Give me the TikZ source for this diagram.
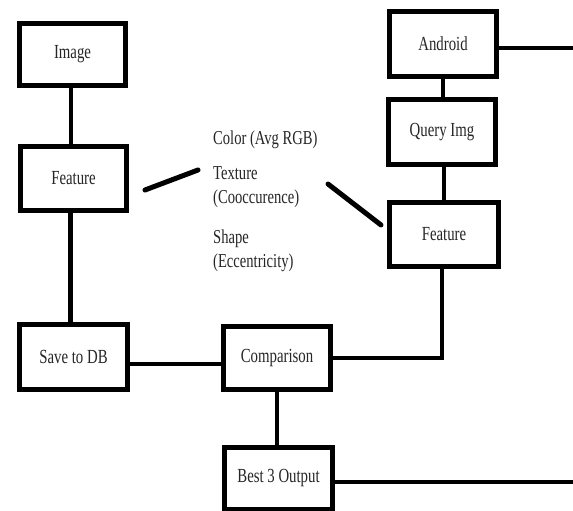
\documentclass[tikz,border=0pt]{standalone}
\usepackage{fontspec}
\setmainfont{Liberation Serif}
\usepackage{graphicx}
\newcommand{\mytxt}[1]{\scalebox{1}[1.35]{#1}}
\begin{document}
\begin{tikzpicture}[x=1pt,y=-1pt,
  box/.style={draw=black, fill=white, line width=5pt, minimum width=107pt, minimum height=64pt, inner sep=0pt, font=\fontsize{14.8}{17}\selectfont, text=black!85},
  conn/.style={line width=4.5pt},
  slash/.style={line width=5pt, line cap=round},
  feat/.style={anchor=base west, inner sep=0pt, font=\fontsize{14.6}{17}\selectfont, text=black!85}]
\useasboundingbox[fill=white] (0,0) rectangle (573,511);
% boxes
\node[box, minimum width=106pt, minimum height=62pt] (img) at (72.5,54.5) {\mytxt{Image}};
\node[box, minimum width=106pt, minimum height=64pt] (featL) at (73.5,178.5) {\mytxt{Feature}};
\node[box, minimum width=108pt, minimum height=65pt] (save) at (73.5,357) {\mytxt{Save to DB}};
\node[box, minimum height=63pt] (comp) at (277,358) {\mytxt{Comparison}};
\node[box, minimum width=108pt, minimum height=62pt] (best) at (278.5,478.5) {\mytxt{Best 3 Output}};
\node[box, minimum height=65pt] (and) at (443,44) {\mytxt{Android}};
\node[box, minimum height=65pt] (qry) at (442,132) {\mytxt{Query Img}};
\node[box, minimum width=109pt] (featR) at (444,234.5) {\mytxt{Feature}};
% feature texts
\node[feat] (t1) at (213,144) {\mytxt{Color (Avg RGB)}};
\node[feat] (t2) at (213,179) {\mytxt{Texture}};
\node[feat] (t3) at (213,203) {\mytxt{(Cooccurence)}};
\node[feat] (t4) at (213,243) {\mytxt{Shape}};
\node[feat] (t5) at (213,267) {\mytxt{(Eccentricity)}};
% free ends
\coordinate (ra) at (576,48);
\coordinate (rb) at (576,482);
\coordinate (s1a) at (145,190);
\coordinate (s1b) at (198,170);
\coordinate (s2a) at (328,184);
\coordinate (s2b) at (381,225);
% connectors
\draw[conn] ([xshift=-1.5pt]img.south) -- ([xshift=-1.5pt]img.south |- featL.north);
\draw[conn] ([xshift=-3pt]featL.south) -- ([xshift=-3pt]featL.south |- save.north);
\draw[conn] ([yshift=-7pt]save.east) -- ([yshift=-7pt]save.east -| comp.west);
\draw[conn] (comp.east) -| ([xshift=-2pt]featR.south);
\draw[conn] (comp.south) -- (comp.south |- best.north);
\draw[conn] ([yshift=-3.5pt]best.east) -- (rb);
\draw[conn] ([yshift=-4pt]and.east) -- (ra);
\draw[conn] (and.south) -- (and.south |- qry.north);
\draw[conn] ([xshift=2pt]qry.south) -- ([xshift=2pt]qry.south |- featR.north);
\draw[slash] (s1a) -- (s1b);
\draw[slash] (s2a) -- (s2b);
\end{tikzpicture}
\end{document}
